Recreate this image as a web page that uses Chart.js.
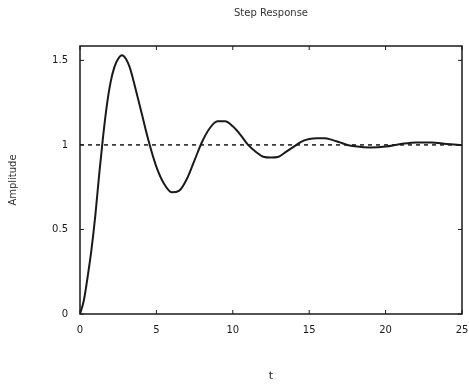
<!DOCTYPE html>
<html>
<head>
<meta charset="utf-8">
<script src="https://cdn.jsdelivr.net/npm/chart.js@4"></script>
<style>
  html, body { margin: 0; padding: 0; background: #fff; }
  #wrap { width: 469px; height: 387px; }
</style>
</head>
<body>
<div id="wrap"><canvas id="step"></canvas></div>
<script>
// values
const time = [0, 0.25, 0.5, 0.75, 1, 1.25, 1.5, 1.75, 2, 2.25, 2.5, 2.75, 3, 3.25, 3.5, 3.75, 4, 4.5, 5, 5.5, 6, 6.5, 7, 7.5, 8, 8.5, 9, 9.5, 10, 10.5, 11, 11.5, 12, 12.5, 13, 13.5, 14, 14.5, 15, 15.5, 16, 16.5, 17, 17.5, 18, 19, 20, 21, 22, 23, 24, 25];
const amplitude = [0, 0.08, 0.22, 0.38, 0.58, 0.82, 1.04, 1.23, 1.37, 1.46, 1.51, 1.53, 1.51, 1.46, 1.38, 1.29, 1.2, 1.02, 0.87, 0.77, 0.72, 0.73, 0.8, 0.91, 1.02, 1.1, 1.14, 1.14, 1.11, 1.06, 1.0, 0.96, 0.93, 0.925, 0.93, 0.96, 0.99, 1.02, 1.035, 1.04, 1.04, 1.03, 1.015, 1.0, 0.992, 0.985, 0.99, 1.005, 1.015, 1.015, 1.005, 1.0];
const refLevel = [1, 1];
const refTime = [0, 25];
const xTicks = [0, 5, 10, 15, 20, 25];
const yTicks = [0, 0.5, 1, 1.5];

const ink = '#1a1a1a';
const font = { family: 'DejaVu Sans', size: 10 };

// box around the plot plus small inward tick marks
const frame = {
    id: 'frame',
    afterDatasetsDraw(chart) {
        const { ctx, chartArea: a, scales } = chart;
        ctx.save();
        ctx.strokeStyle = ink;
        ctx.lineWidth = 1.5;
        ctx.strokeRect(a.left, a.top, a.right - a.left, a.bottom - a.top);
        ctx.lineWidth = 1;
        ctx.beginPath();
        xTicks.forEach(v => {
            const px = scales.x.getPixelForValue(v);
            ctx.moveTo(px, a.bottom); ctx.lineTo(px, a.bottom - 4);
            ctx.moveTo(px, a.top); ctx.lineTo(px, a.top + 4);
        });
        yTicks.forEach(v => {
            const py = scales.y.getPixelForValue(v);
            ctx.moveTo(a.left, py); ctx.lineTo(a.left + 4, py);
            ctx.moveTo(a.right, py); ctx.lineTo(a.right - 4, py);
        });
        ctx.stroke();
        ctx.restore();
    }
};

new Chart(document.getElementById('step'), {
    type: 'line',
    data: {
        datasets: [
            {
                data: time.map((t, i) => ({ x: t, y: amplitude[i] })),
                borderColor: ink,
                borderWidth: 2,
                pointRadius: 0,
                tension: 0.4,
                cubicInterpolationMode: 'monotone'
            },
            {
                data: refTime.map((t, i) => ({ x: t, y: refLevel[i] })),
                borderColor: ink,
                borderWidth: 1.5,
                borderDash: [4, 4],
                pointRadius: 0
            }
        ]
    },
    options: {
        responsive: true,
        maintainAspectRatio: false,
        animation: false,
        layout: { padding: { left: 0, right: 0, top: 0, bottom: 0 } },
        plugins: {
            legend: { display: false },
            tooltip: { enabled: false },
            title: {
                display: true,
                fullSize: false,
                text: 'Step Response',
                color: '#333',
                font: { family: 'DejaVu Sans', size: 10, weight: 'normal' },
                padding: { top: 7, bottom: 27 }
            }
        },
        scales: {
            x: {
                type: 'linear',
                min: 0,
                max: 25,
                afterBuildTicks: s => { s.ticks = xTicks.map(v => ({ value: v })); },
                afterFit: s => { s.height = 73; s.paddingRight = 7; s.paddingLeft = 0; },
                grid: { display: false, drawTicks: false },
                border: { display: false },
                ticks: { color: ink, font, padding: 10, maxRotation: 0 },
                title: { display: true, text: 't', color: ink, font: { family: 'DejaVu Sans', size: 11 }, padding: { top: 20 } }
            },
            y: {
                type: 'linear',
                min: 0,
                max: 1.585,
                afterBuildTicks: s => { s.ticks = yTicks.map(v => ({ value: v })); },
                afterFit: s => { s.width = 80; },
                grid: { display: false, drawTicks: false },
                border: { display: false },
                ticks: { color: ink, font, padding: 12, callback: v => String(v) },
                title: { display: true, text: 'Amplitude', color: '#333', font: { family: 'DejaVu Sans', size: 10 }, padding: { top: 7, bottom: 10 } }
            }
        }
    },
    plugins: [frame]
});
</script>
</body>
</html>
